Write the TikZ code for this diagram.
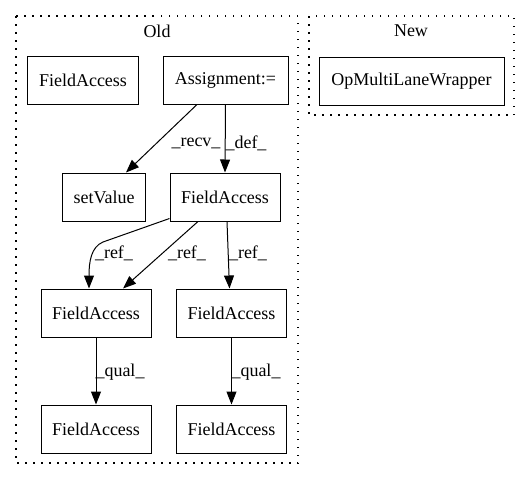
\documentclass[tikz,border=0pt]{standalone}
\usepackage{fontspec}
\setmainfont{Liberation Serif}
\usetikzlibrary{arrows.meta}

\tikzset{
  box/.style={draw, rectangle, minimum height=48pt, inner sep=0pt, line width=1pt},
  lbl/.style={inner sep=0pt},
  cluster/.style={line width=1.2pt, dash pattern=on 1.5pt off 6.5pt},
  edge/.style={line width=1pt, -{Triangle[length=13pt,width=10pt]}}
}

\begin{document}
\begin{tikzpicture}[x=1pt, y=-1pt, font=\fontsize{18}{21}\selectfont]
            \useasboundingbox (0,0) rectangle (531,480);
            %clusters
            \draw[cluster] (16,16) rectangle (298,463);
            \draw[cluster] (309,16) rectangle (514,115);
            \node[lbl] (oldtitle) at (157,31) {Old};
            \node[lbl] (newtitle) at (411,31) {New};

            %nodes
            \node[box, minimum width=111pt] (fa0) at (83,80) {FieldAccess};
            \node[box, minimum width=125pt] (asg) at (225.5,80) {Assignment:=};
            \node[box, minimum width=83pt] (setv) at (104,197) {setValue};
            \node[box, minimum width=110pt] (famid) at (225,197) {FieldAccess};
            \node[box, minimum width=110pt] (faL) at (96,313) {FieldAccess};
            \node[box, minimum width=110pt] (faR) at (231.5,313) {FieldAccess};
            \node[box, minimum width=110pt] (faLL) at (96,429) {FieldAccess};
            \node[box, minimum width=110pt] (faRR) at (231.5,429) {FieldAccess};
            \node[box, minimum width=185pt] (opw) at (411.5,81) {OpMultiLaneWrapper};

            %edges
            \draw[edge] ([xshift=-28.5pt]asg.south) -- ([xshift=22pt]setv.north);
            \draw[edge] (asg.south) -- (famid.north);
            \draw[edge] ([yshift=3pt]famid.south west) -- (103,242)
                .. controls (91,247) and (89,262) .. ([xshift=-7pt]faL.north);
            \draw[edge] ([xshift=-27pt]famid.south) -- ([xshift=27pt]faL.north);
            \draw[edge] ([xshift=2pt]famid.south) -- ([xshift=-2pt]faR.north);
            \draw[edge] (faL.south) -- (faLL.north);
            \draw[edge] (faR.south) -- (faRR.north);

            %labels
            \node[lbl] (lrecv) at (196,143) {\_recv\_};
            \node[lbl] (ldef) at (246,143) {\_def\_};
            \node[lbl] (lref1) at (114,253) {\_ref\_};
            \node[lbl] (lref2) at (187,253) {\_ref\_};
            \node[lbl] (lref3) at (248,253) {\_ref\_};
            \node[lbl] (lqual1) at (120,372) {\_qual\_};
            \node[lbl] (lqual2) at (256,372) {\_qual\_};
        \end{tikzpicture}
\end{document}
